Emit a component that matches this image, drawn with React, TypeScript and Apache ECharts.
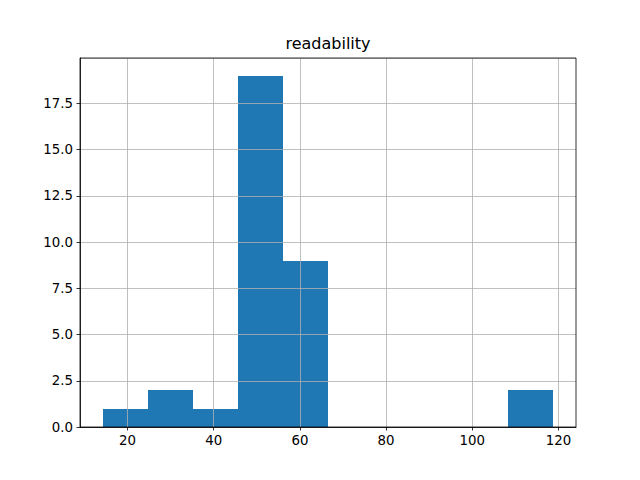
import React, { useEffect, useRef } from "react";
import * as echarts from "echarts";

const binEdges: number[] = [14.19, 24.65, 35.11, 45.57, 56.03, 66.49, 76.95, 87.41, 97.87, 108.33, 118.79];
const counts: number[] = [1, 2, 1, 19, 9, 0, 0, 0, 0, 2];
const xTicks: number[] = [20, 40, 60, 80, 100, 120];
const titleText = "readability";

export default function App() {
  const ref = useRef<HTMLDivElement>(null);
  useEffect(() => {
    if (!ref.current) return;
    const chart = echarts.init(ref.current, null, { renderer: "svg" });
    const data = counts.map((c, i) => [binEdges[i], binEdges[i + 1], c]);
    const font = "DejaVu Sans";
    chart.setOption({
      animation: false,
      backgroundColor: "#ffffff",
      grid: { left: 80, right: 64, top: 58, bottom: 53, containLabel: false },
      xAxis: {
        type: "value",
        min: 8.96,
        max: 124.07,
        z: 5,
        axisLine: { show: true, onZero: false, lineStyle: { color: "#000", width: 0.8 } },
        axisTick: { show: true, length: 3.5, customValues: xTicks, lineStyle: { color: "#000", width: 0.8 } },
        axisLabel: { customValues: xTicks, margin: 7, fontFamily: font, fontSize: 13.33, color: "#000" },
        splitLine: { show: true, lineStyle: { color: "#b0b0b0", width: 0.8 } },
      },
      yAxis: {
        type: "value",
        min: 0,
        max: 19.95,
        interval: 2.5,
        z: 5,
        axisLine: { show: true, lineStyle: { color: "#000", width: 0.8 } },
        axisTick: { show: true, length: 3.5, lineStyle: { color: "#000", width: 0.8 } },
        axisLabel: {
          margin: 7,
          fontFamily: font,
          fontSize: 13.33,
          color: "#000",
          formatter: (v: number) => v.toFixed(1),
          showMaxLabel: false,
        },
        splitLine: { show: true, lineStyle: { color: "#b0b0b0", width: 0.8 } },
      },
      graphic: [
        {
          type: "text",
          z: 10,
          silent: true,
          style: {
            text: titleText,
            x: 328,
            y: 43,
            align: "center",
            verticalAlign: "middle",
            fontFamily: font,
            fontSize: 16,
            fill: "#000",
          },
        },
        {
          type: "rect",
          shape: { x: 80, y: 58, width: 496, height: 369 },
          style: { fill: "none", stroke: "#000", lineWidth: 0.8 },
          z: 10,
          silent: true,
        },
      ],
      series: [
        {
          type: "custom",
          z: 1,
          data,
          encode: { x: [0, 1], y: 2 },
          renderItem: (params: any, api: any) => {
            const x0 = api.value(0);
            const x1 = api.value(1);
            const c = api.value(2);
            if (!c) return null;
            const p0 = api.coord([x0, c]);
            const p1 = api.coord([x1, 0]);
            const left = Math.round(p0[0]);
            const right = Math.round(p1[0]);
            const top = Math.round(p0[1]);
            const bottom = Math.round(p1[1]);
            return {
              type: "rect",
              shape: { x: left, y: top, width: right - left, height: bottom - top },
              style: { fill: "#1f77b4" },
            };
          },
        },
      ],
    });
    return () => chart.dispose();
  }, []);
  return <div ref={ref} style={{ position: "fixed", left: 0, top: 0, width: 640, height: 480 }} />;
}
